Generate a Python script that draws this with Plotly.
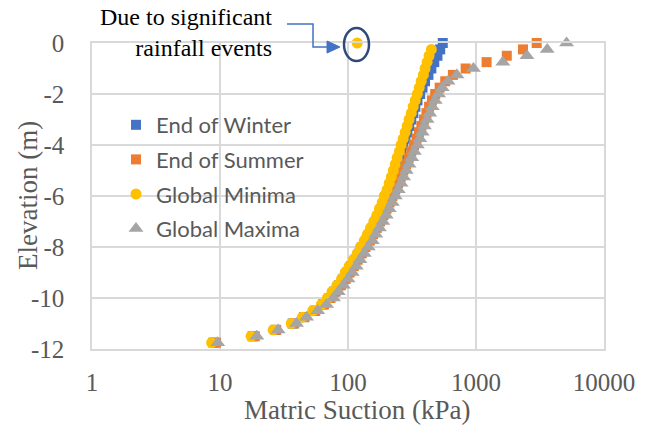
import plotly.graph_objects as go

elevation = [0, -0.25, -0.5, -0.75, -1.0, -1.25, -1.5, -1.75, -2.0, -2.25, -2.5, -2.75,
             -3.0, -3.25, -3.5, -3.75, -4.0, -4.25, -4.5, -4.75, -5.0, -5.25, -5.5, -5.75,
             -6.0, -6.25, -6.5, -6.75, -7.0, -7.25, -7.5, -7.75, -8.0, -8.25, -8.5, -8.75,
             -9.0, -9.25, -9.5, -9.75, -10.0, -10.25, -10.5, -10.75, -11.0, -11.25, -11.5, -11.75]

end_of_winter = [550, 525, 500, 472, 448, 425, 400, 382, 366, 349, 336, 324,
                 312, 301, 291, 281, 270, 261, 251, 243, 235, 227, 218, 210,
                 200, 192, 183, 175, 165, 156, 148, 139, 130, 123, 114, 106,
                 99, 92, 85, 78, 71.5, 64, 55, 45.5, 37, 27, 18, 8.9]

end_of_summer = [2980, 2330, 1740, 1210, 830, 660, 575, 520, 480, 452, 430, 410,
                 392, 374, 358, 343, 328, 312, 298, 284, 270, 258, 246, 234,
                 222, 211, 200, 189, 178, 168, 157, 148, 137, 128, 119, 111,
                 103, 96, 88, 80, 73, 65, 55.5, 45.5, 38, 27.5, 18.7, 9.3]

global_minima = [118, 448, 430, 415, 400, 388, 373, 360, 348, 335, 323, 312,
                 300, 290, 280, 270, 260, 252, 242, 234, 226, 218, 210, 202,
                 192, 185, 176, 168, 159, 150, 142, 134, 125, 118, 110, 102,
                 95, 89, 82, 75, 69, 62, 53, 44, 36, 26, 17.5, 8.6]

global_maxima = [5100, 3600, 2500, 1620, 955, 710, 605, 545, 510, 480, 455, 435,
                 415, 395, 380, 364, 348, 330, 315, 300, 285, 272, 260, 247,
                 234, 222, 210, 199, 187, 176, 165, 155, 144, 134, 124, 116,
                 108, 100, 92, 84, 77, 68, 58, 47.5, 39.6, 28.5, 19.4, 9.6]

x_ticks = [1, 10, 100, 1000, 10000]
x_ticktext = ["1", "10", "100", "1000", "10000"]
y_ticks = [0, -2, -4, -6, -8, -10, -12]
y_ticktext = ["0", "-2", "-4", "-6", "-8", "-10", "-12"]

series = [
    ("End of Winter", end_of_winter, "square", "#4472C4", 10),
    ("End of Summer", end_of_summer, "square", "#ED7D31", 10),
    ("Global Minima", global_minima, "circle", "#FFC000", 11),
    ("Global Maxima", global_maxima, "triangle-up", "#A5A5A5", 13),
]

fig = go.Figure()
for i, (name, vals, sym, col, sz) in enumerate(series):
    fig.add_trace(go.Scatter(
        x=vals, y=elevation, mode="markers", name=name,
        legendgroup=f"g{i}",
        marker=dict(symbol=sym, color=col, size=sz, line=dict(width=0)),
        cliponaxis=False,
    ))

W, H = 652, 434
L, R, T, B = 92, 48, 43, 85
pw, ph = W - L - R, H - T - B


def px(xp):
    return (xp - L) / pw


def py(yp):
    return (H - B - yp) / ph


grid = "#D9D9D9"
tick_font = dict(family="Liberation Serif", size=25, color="#595959")
title_font = dict(family="Liberation Serif", size=27, color="#595959")

fig.update_layout(
    width=W, height=H,
    margin=dict(l=L, r=R, t=T, b=B),
    paper_bgcolor="white", plot_bgcolor="white",
    showlegend=True,
    legend=dict(
        x=px(116), y=py(104), xanchor="left", yanchor="top",
        font=dict(family="Lato", size=22, color="#595959"),
        bgcolor="rgba(0,0,0,0)", tracegroupgap=3,
        itemsizing="trace",
    ),
    xaxis=dict(
        type="log", range=[0, 4],
        tickvals=x_ticks, ticktext=x_ticktext,
        showgrid=True, gridcolor=grid, gridwidth=1.5,
        showline=True, linecolor=grid, linewidth=1.5, mirror=True,
        zeroline=False, ticks="", ticklabelstandoff=10,
        tickfont=tick_font,
    ),
    yaxis=dict(
        range=[-12, 0],
        tickvals=y_ticks, ticktext=y_ticktext,
        showgrid=True, gridcolor=grid, gridwidth=1.5,
        showline=True, linecolor=grid, linewidth=1.5, mirror=True,
        zeroline=False, ticks="", ticklabelstandoff=21,
        tickfont=tick_font,
    ),
)

# axis titles placed as text
fig.add_annotation(
    xref="paper", yref="paper", x=px(357), y=py(410),
    xanchor="center", yanchor="middle",
    text="Matric Suction (kPa)", showarrow=False, font=title_font,
)
fig.add_annotation(
    xref="paper", yref="paper", x=px(28), y=py(196),
    xanchor="center", yanchor="middle", textangle=-90,
    text="Elevation (m)", showarrow=False, font=title_font,
)

# callout annotation
fig.add_annotation(
    xref="paper", yref="paper", x=px(274), y=py(33),
    xanchor="right", yanchor="middle", align="right",
    text="Due to significant<br>rainfall events", showarrow=False,
    font=dict(family="Liberation Serif", size=24, color="black"),
)
arrow_col = "#4472C4"
fig.add_shape(type="path", xref="paper", yref="paper",
              path=f"M {px(287)},{py(24)} L {px(313)},{py(24)} L {px(313)},{py(47)} L {px(329)},{py(47)}",
              line=dict(color=arrow_col, width=1.5))
fig.add_shape(type="path", xref="paper", yref="paper",
              path=f"M {px(340)},{py(47)} L {px(327)},{py(41)} L {px(327)},{py(53)} Z",
              fillcolor=arrow_col, line=dict(color=arrow_col, width=1))
fig.add_shape(type="circle", xref="paper", yref="paper",
              x0=px(344), x1=px(369), y0=py(61), y1=py(28),
              line=dict(color="#2F4A7A", width=2.5))

fig.write_html("out.html")
